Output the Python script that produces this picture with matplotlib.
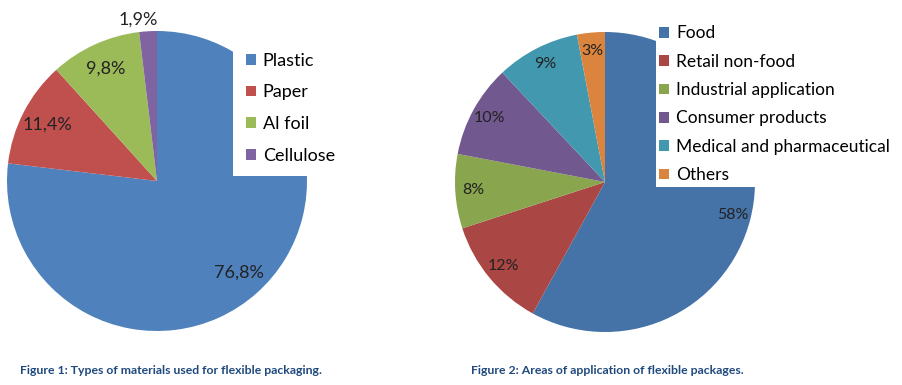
import numpy as np
import matplotlib.pyplot as plt

# figure 1 data
mat_names = ["Plastic", "Paper", "Al foil", "Cellulose"]
mat_values = [76.8, 11.4, 9.8, 1.9]
mat_labels = ["76,8%", "11,4%", "9,8%", "1,9%"]
mat_colors = ["#4F81BD", "#C0504D", "#9BBB59", "#8064A2"]

# figure 2 data
app_names = ["Food", "Retail non-food", "Industrial application",
             "Consumer products", "Medical and pharmaceutical", "Others"]
app_values = [58, 12, 8, 10, 9, 3]
app_labels = ["58%", "12%", "8%", "10%", "9%", "3%"]
app_colors = ["#4572A7", "#AA4643", "#89A54E", "#71588F", "#4198AF", "#DB843D"]

W, H = 903, 385
fig = plt.figure(figsize=(W / 100, H / 100), dpi=100)
plt.rcParams['font.family'] = ['Lato', 'DejaVu Sans']


def px_axes(x, y_top, w, h):
    return fig.add_axes([x / W, 1 - (y_top + h) / H, w / W, h / H])


def draw_pie(ax, values, labels, colors, dist, fs):
    it = iter(labels)
    wedges, _, autotexts = ax.pie(values, colors=colors, startangle=90, counterclock=False,
                                  autopct=lambda p: next(it), pctdistance=dist,
                                  wedgeprops=dict(linewidth=0),
                                  textprops=dict(fontsize=fs, color="#222222"))
    ax.set_xlim(-1, 1)
    ax.set_ylim(-1, 1)
    ax.set_aspect("equal")
    return wedges, autotexts


ax1 = px_axes(7, 31, 300, 300)
w1, t1 = draw_pie(ax1, mat_values, mat_labels, mat_colors, 0.82, 13)
# small slice label sits outside the pie
w = w1[-1]
ang = np.deg2rad((w.theta1 + w.theta2) / 2)
t1[-1].set_position((1.1 * np.cos(ang) - 0.06, 1.08 * np.sin(ang)))

ax2 = px_axes(455, 32, 300, 300)
w2, t2 = draw_pie(ax2, app_values, app_labels, app_colors, 0.88, 11.5)

leg_kw = dict(loc="upper left", frameon=True, facecolor="white", edgecolor="none",
              framealpha=1, fancybox=False, borderaxespad=0, handlelength=0.55,
              handleheight=0.55, handletextpad=0.4)
fig.legend(w1, mat_names, bbox_to_anchor=(233 / W, 1 - 40 / H), labelspacing=0.87,
           borderpad=0.7, fontsize=13, **leg_kw)
fig.legend(w2, app_names, bbox_to_anchor=(656 / W, 1 - 22 / H), labelspacing=0.71,
           borderpad=0.2, fontsize=12.5, **leg_kw)

cap_kw = dict(fontsize=8.8, fontweight="bold", color="#1F497D", va="center", ha="left")
fig.text(20 / W, 1 - 371 / H, "Figure 1: Types of materials used for flexible packaging.", **cap_kw)
fig.text(471 / W, 1 - 371 / H, "Figure 2: Areas of application of flexible packages.", **cap_kw)

fig.savefig("out.png", dpi=100, facecolor="white")
